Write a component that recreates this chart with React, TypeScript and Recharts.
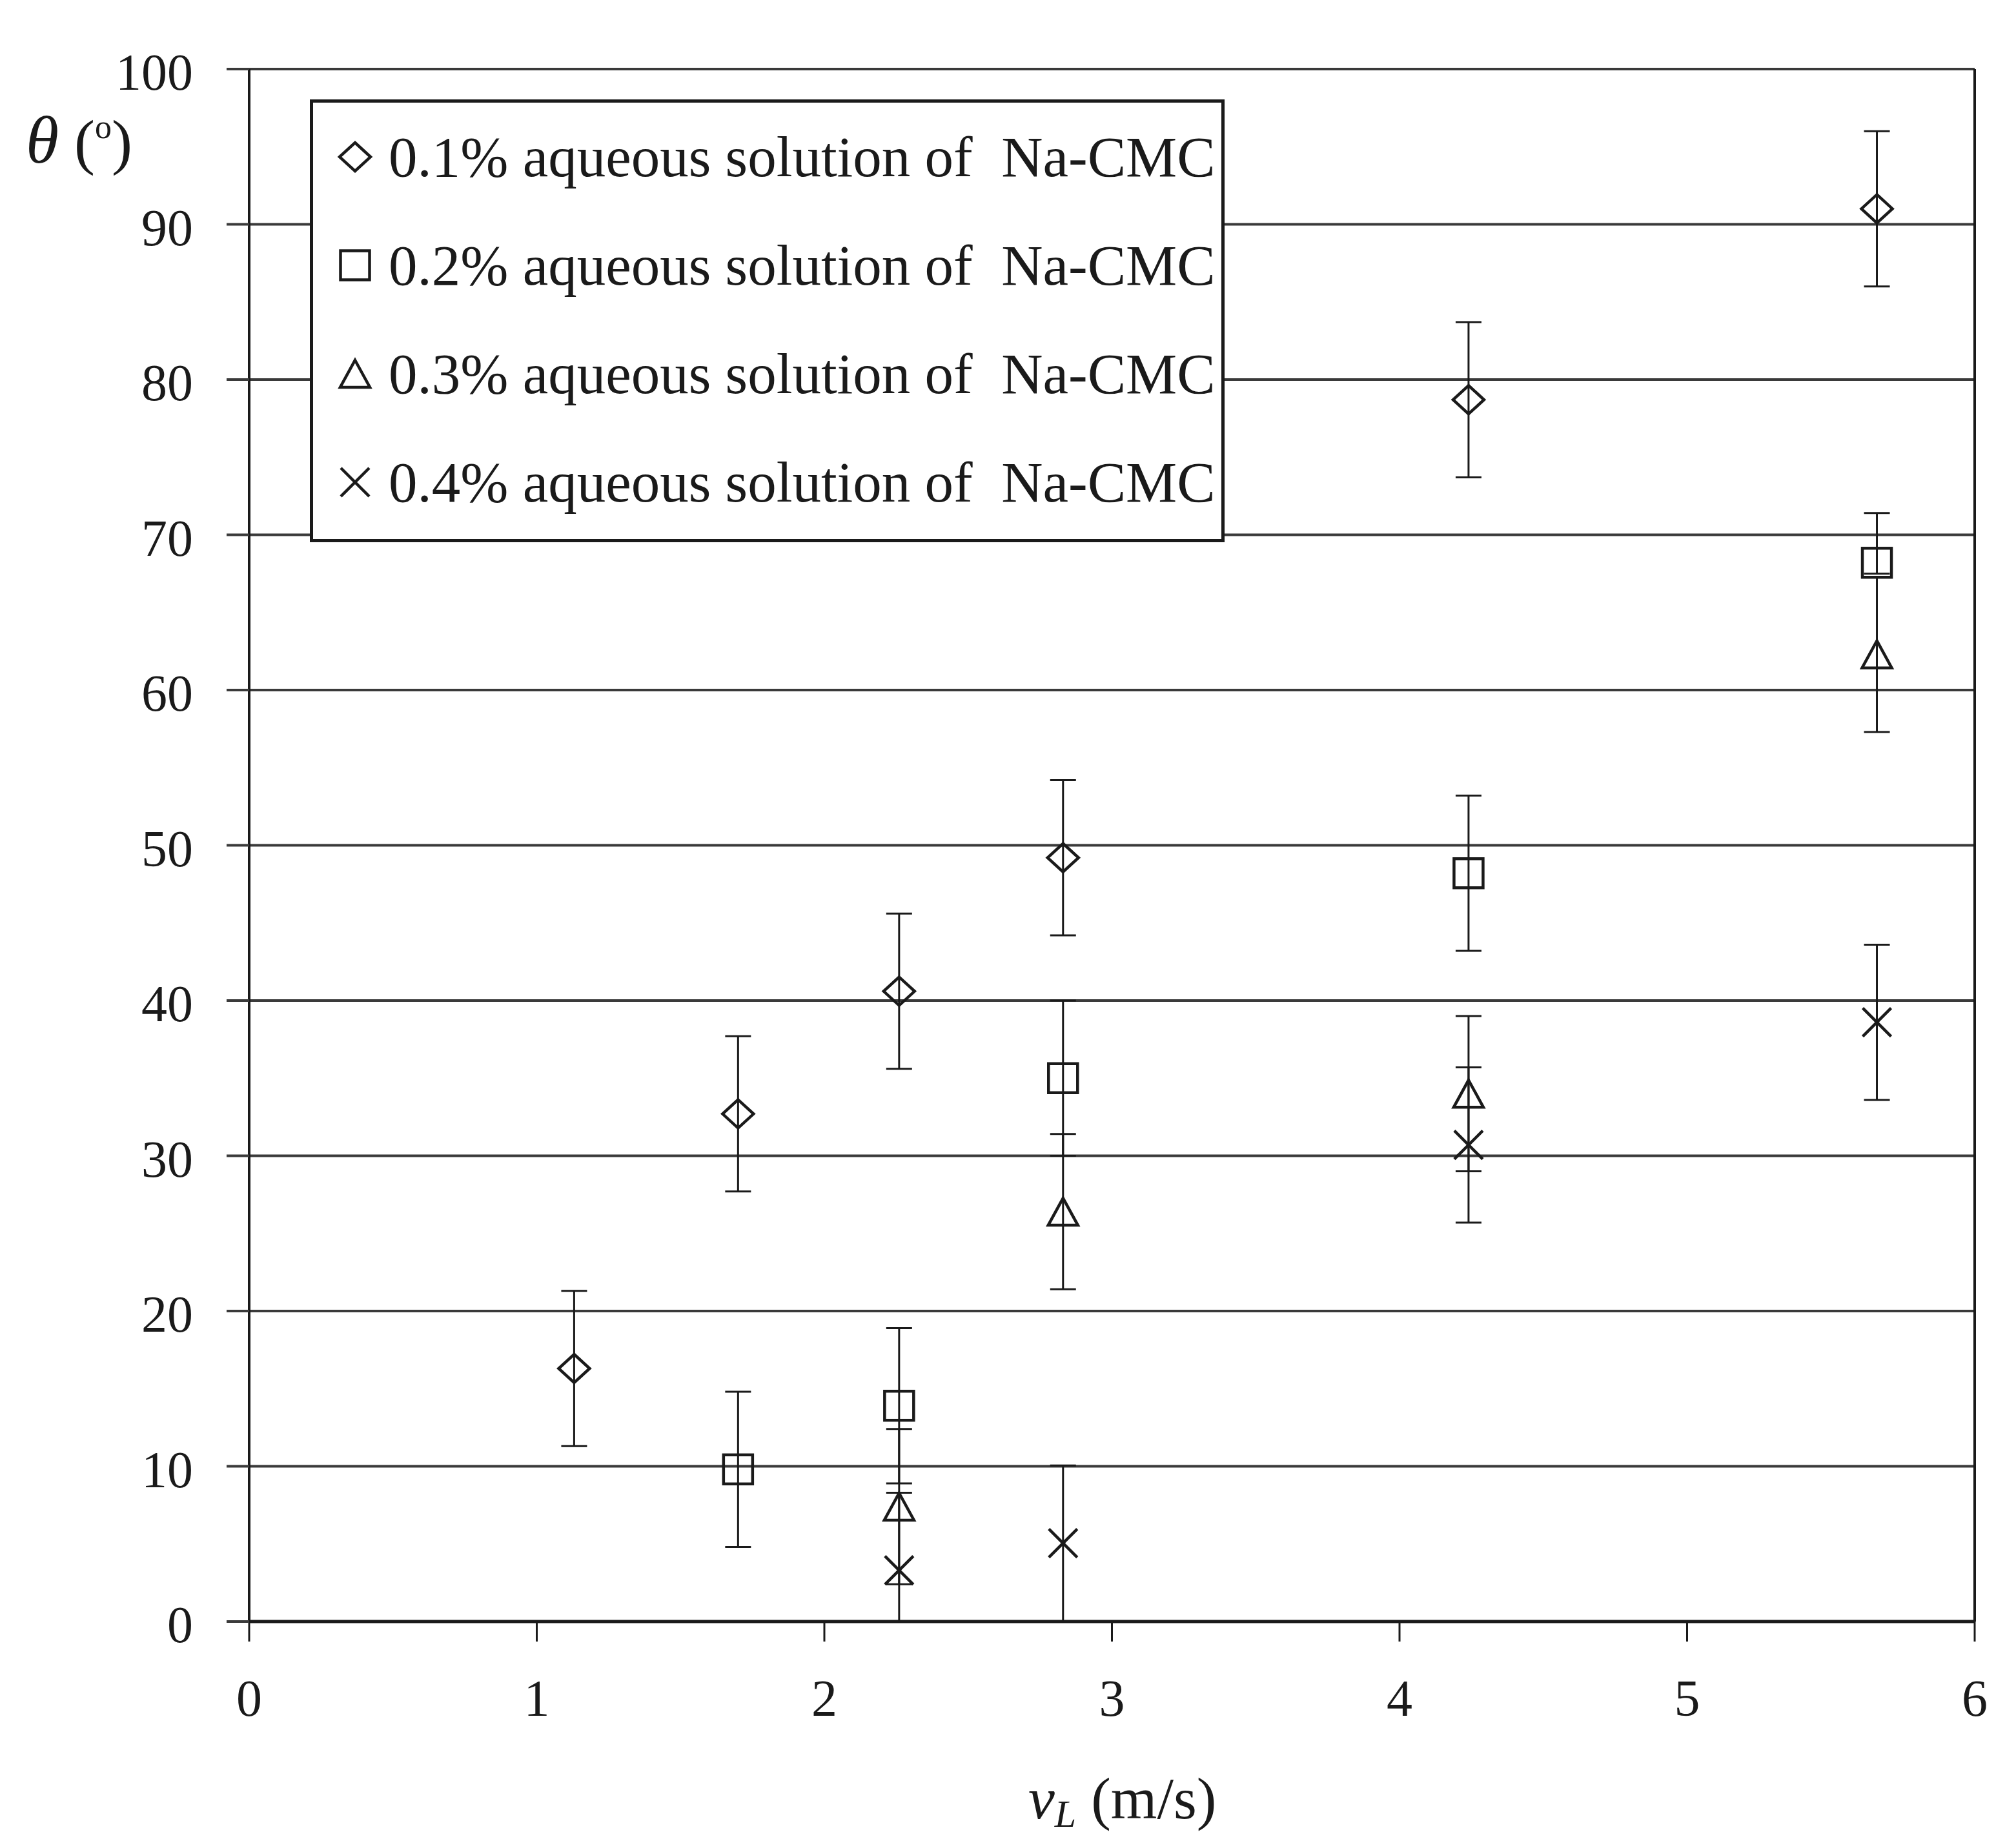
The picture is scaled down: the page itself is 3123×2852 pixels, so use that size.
import React from 'react'
import {
  ScatterChart,
  Scatter,
  XAxis,
  YAxis,
  CartesianGrid,
  ErrorBar,
  Legend,
  ReferenceLine,
} from 'recharts'

const FONT = '"Liberation Serif", "Times New Roman", serif'
const INK = '#1a1a1a'
const GRID = '#3a3a3a'

const xTicks = [0, 1, 2, 3, 4, 5, 6]
const yTicks = [0, 10, 20, 30, 40, 50, 60, 70, 80, 90, 100]

// 0.1 % Na-CMC
const vel01 = [1.13, 1.7, 2.26, 2.83, 4.24, 5.66]
const theta01 = [16.3, 32.7, 40.6, 49.2, 78.7, 91.0]
const low01 = [5, 5, 5, 5, 5, 5]
const high01 = [5, 5, 5, 5, 5, 5]

// 0.2 % Na-CMC
const vel02 = [1.7, 2.26, 2.83, 4.24, 5.66]
const theta02 = [9.8, 13.9, 35.0, 48.2, 68.2]
const low02 = [5, 5, 5, 5, 0.7]
const high02 = [5, 5, 5, 5, 3.2]

// 0.3 % Na-CMC
const vel03 = [2.26, 2.83, 4.24, 5.66]
const theta03 = [7.4, 26.4, 34.0, 62.3]
const low03 = [5, 5, 5, 5]
const high03 = [5, 5, 5, 5]

// 0.4 % Na-CMC
const vel04 = [2.26, 2.83, 4.24, 5.66]
const theta04 = [3.3, 5.05, 30.7, 38.6]
const low04 = [3.3, 5.05, 5, 5]
const high04 = [5, 5, 5, 5]

const rows = (vel: number[], theta: number[], low: number[], high: number[]) =>
  vel.map((x, i) => ({ x, y: theta[i], err: [low[i], high[i]] }))

const series = [
  { name: '0.1% aqueous solution of  Na-CMC', kind: 'diamond', data: rows(vel01, theta01, low01, high01) },
  { name: '0.2% aqueous solution of  Na-CMC', kind: 'square', data: rows(vel02, theta02, low02, high02) },
  { name: '0.3% aqueous solution of  Na-CMC', kind: 'triangle', data: rows(vel03, theta03, low03, high03) },
  { name: '0.4% aqueous solution of  Na-CMC', kind: 'cross', data: rows(vel04, theta04, low04, high04) },
]

function Marker({ kind, cx, cy }: { kind: string; cx: number; cy: number }) {
  const s = { fill: 'none', stroke: INK, strokeWidth: 4.5 }
  if (kind === 'diamond')
    return <path d={`M${cx},${cy - 22} L${cx + 24},${cy} L${cx},${cy + 22} L${cx - 24},${cy} Z`} {...s} />
  if (kind === 'square') return <rect x={cx - 22.5} y={cy - 22.5} width={45} height={45} {...s} />
  if (kind === 'triangle')
    return <path d={`M${cx},${cy - 21} L${cx + 23},${cy + 21} L${cx - 23},${cy + 21} Z`} {...s} />
  return (
    <path
      d={`M${cx - 22},${cy - 22} L${cx + 22},${cy + 22} M${cx + 22},${cy - 22} L${cx - 22},${cy + 22}`}
      {...s}
    />
  )
}

function XTick({ x, y, payload }: any) {
  return (
    <text x={x} y={y} dy={113} textAnchor="middle" fontSize={80} fontFamily={FONT} fill={INK}>
      {payload.value}
    </text>
  )
}

function YTick({ x, y, payload }: any) {
  return (
    <text x={x - 50} y={y} dy={32} textAnchor="end" fontSize={80} fontFamily={FONT} fill={INK}>
      {payload.value}
    </text>
  )
}

function LegendBox() {
  return (
    <svg width={1417} height={686} style={{ display: 'block' }}>
      <rect x={2.5} y={2.5} width={1412} height={681} fill="#fff" stroke={INK} strokeWidth={5} />
      {series.map((s, i) => {
        const base = 119 + i * 168
        return (
          <g key={s.name}>
            <Marker kind={s.kind} cx={70} cy={base - 30} />
            <text x={122} y={base} fontSize={89} fontFamily={FONT} fill={INK} style={{ whiteSpace: 'pre' }}>
              {s.name}
            </text>
          </g>
        )
      })}
    </svg>
  )
}

export default function App() {
  return (
    <div style={{ position: 'absolute', left: 0, top: 0, background: '#fff' }}>
      <ScatterChart
        width={3123}
        height={2852}
        margin={{ top: 107, right: 64, bottom: 0, left: 0 }}
        style={{ fontFamily: FONT }}
      >
        <CartesianGrid vertical={false} stroke={GRID} strokeWidth={4} />
        <XAxis
          type="number"
          dataKey="x"
          domain={[0, 6]}
          ticks={xTicks}
          interval={0}
          allowDataOverflow
          height={340}
          tickSize={31}
          axisLine={{ stroke: INK, strokeWidth: 5 }}
          tickLine={{ stroke: INK, strokeWidth: 3 }}
          tick={<XTick />}
        />
        <YAxis
          type="number"
          dataKey="y"
          domain={[0, 100]}
          ticks={yTicks}
          interval={0}
          allowDataOverflow
          width={386}
          tickSize={35}
          axisLine={{ stroke: INK, strokeWidth: 4 }}
          tickLine={{ stroke: GRID, strokeWidth: 4 }}
          tick={<YTick />}
        />
        <ReferenceLine x={6} stroke={INK} strokeWidth={4} />
        <Legend
          layout="vertical"
          align="center"
          verticalAlign="middle"
          wrapperStyle={{ left: 480, top: 154, width: 1417, height: 686 }}
          content={() => <LegendBox />}
        />
        {series.map((s) => (
          <Scatter
            key={s.name}
            name={s.name}
            data={s.data}
            isAnimationActive={false}
            shape={(p: any) => <Marker kind={s.kind} cx={p.cx} cy={p.cy} />}
          >
            <ErrorBar dataKey="err" direction="y" width={20} stroke={INK} strokeWidth={3} isAnimationActive={false} />
          </Scatter>
        ))}
        <text x={40} y={252} fontSize={96} fontFamily={FONT} fill={INK}>
          <tspan fontStyle="italic" fontSize={104}>θ</tspan>
          <tspan> (</tspan>
          <tspan fontSize={52} dy={-38}>o</tspan>
          <tspan dy={38}>)</tspan>
        </text>
        <text x={1593} y={2817} fontSize={92} fontFamily={FONT} fill={INK}>
          <tspan fontStyle="italic">v</tspan>
          <tspan fontStyle="italic" fontSize={60} dy={13}>L</tspan>
          <tspan dy={-13}> (m/s)</tspan>
        </text>
      </ScatterChart>
    </div>
  )
}
